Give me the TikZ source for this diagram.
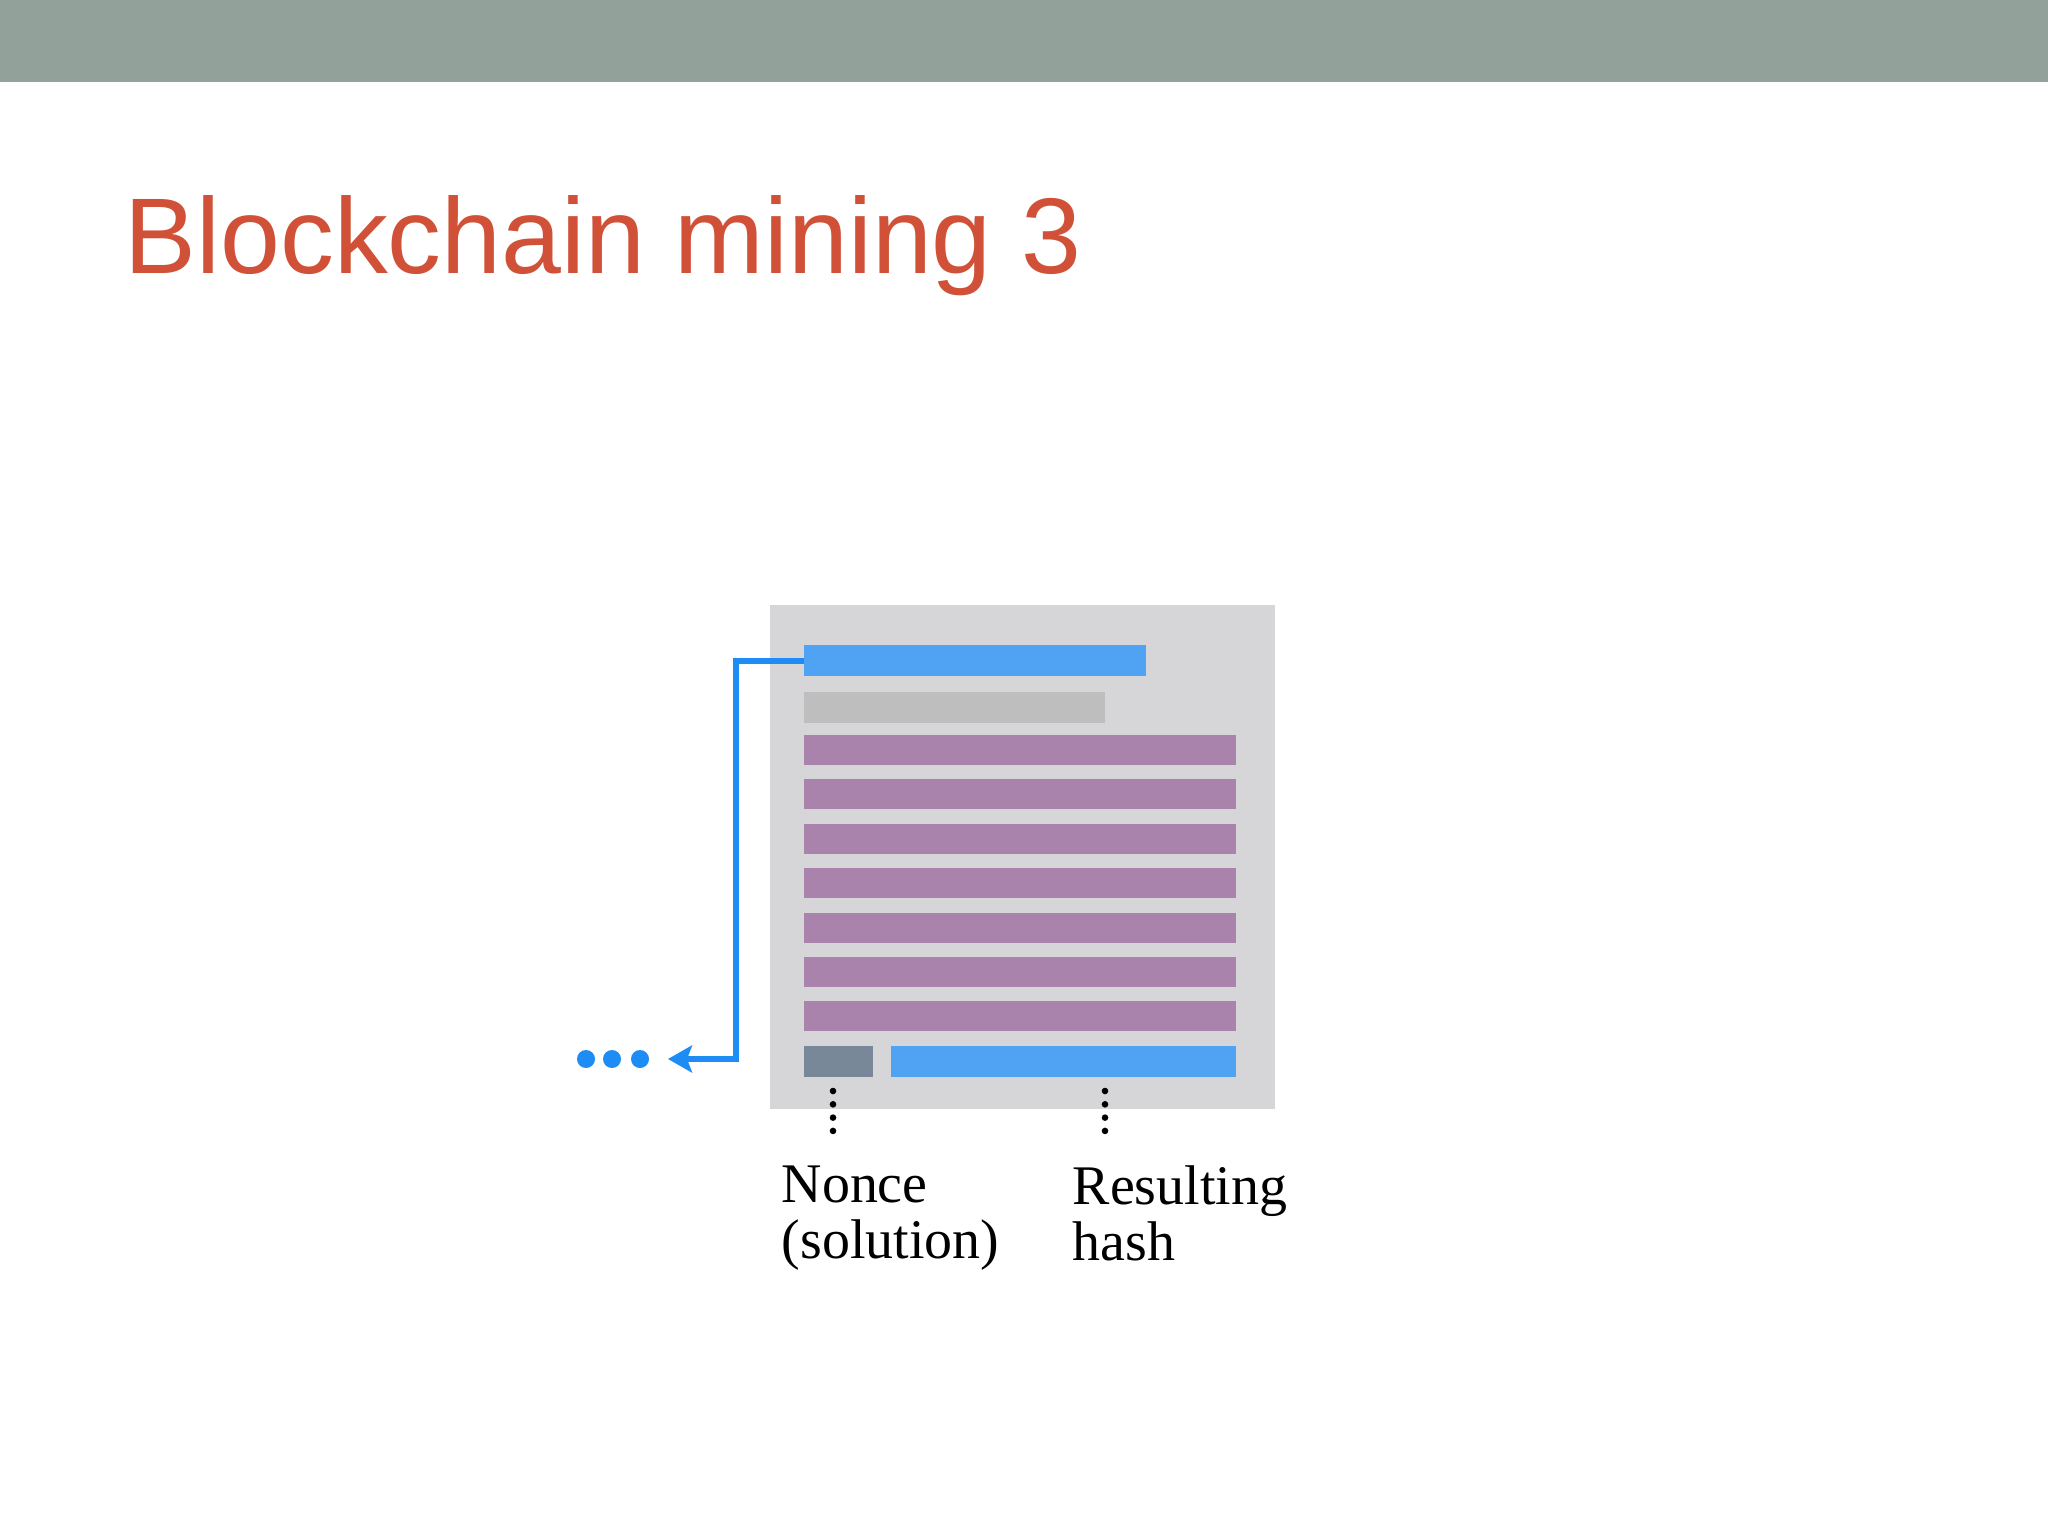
\documentclass[tikz,border=0pt]{standalone}
\usepackage{fontspec}
\setmainfont{Liberation Serif}
\newfontfamily\titlefont{Liberation Sans}
\usetikzlibrary{arrows.meta}
\definecolor{topbar}{RGB}{146,161,153}
\definecolor{titlered}{RGB}{208,81,56}
\definecolor{blockbg}{RGB}{214,214,216}
\definecolor{hashblue}{RGB}{79,163,242}
\definecolor{linkblue}{RGB}{30,140,245}
\definecolor{prevgray}{RGB}{191,190,191}
\definecolor{txpurple}{RGB}{170,131,172}
\definecolor{noncegray}{RGB}{121,136,152}

\begin{document}
\begin{tikzpicture}[x=0.01cm,y=-0.01cm,
  bar/.style={rectangle,inner sep=0,outer sep=0,anchor=north west,minimum height=0.31cm},
  dot/.style={circle,fill=linkblue,inner sep=0,minimum size=0.18cm},
  link/.style={draw=linkblue,line width=0.06cm,-{Stealth[length=0.24cm,width=0.27cm,inset=0.05cm]}},
  leader/.style={draw=black,line width=0.066cm,line cap=round,dash pattern=on 0pt off 0.133cm},
  lbl/.style={anchor=north west,inner sep=0,align=left,font=\fontsize{15.9}{15.9}\selectfont}]
\useasboundingbox[fill=white] (0,0) rectangle (2048,1536);
\fill[topbar] (0,0) rectangle (2048,82);
\node[anchor=base west,inner sep=0,text=titlered,font=\titlefont\fontsize{30.6}{37}\selectfont]
  (title) at (124,273) {Blockchain mining 3};

% the block
\node[bar,fill=blockbg,minimum width=5.05cm,minimum height=5.04cm] (block) at (770,605) {};
\node[bar,fill=hashblue,minimum width=3.42cm] (prev) at (804,645) {};
\node[bar,fill=prevgray,minimum width=3.01cm] (stamp) at (804,692) {};
\foreach \i in {1,...,7}
  \node[bar,fill=txpurple,minimum width=4.32cm,minimum height=0.30cm] (tx\i) at (804,735+44.4*\i-44.4) {};
\node[bar,fill=noncegray,minimum width=0.69cm] (nonce) at (804,1046) {};
\node[bar,fill=hashblue,minimum width=3.45cm] (hash) at (891,1046) {};

% link back to the previous block
\coordinate (tip) at (668,1059);
\draw[link] (prev.west) -- ++(-68,0) |- (tip);
\foreach \x [count=\i] in {586,612,640}
  \node[dot] (more\i) at (\x,1059) {};

% labels
\node[lbl] (lblnonce) at (781,1165) {Nonce\\(solution)};
\node[lbl] (lblhash) at (1072,1165) {Resulting\\hash};
\coordinate (nlead) at (833,1091);
\coordinate (hlead) at (1105,1091);
\draw[leader] (nlead) -- ++(0,41);
\draw[leader] (hlead) -- ++(0,41);
\end{tikzpicture}
\end{document}
